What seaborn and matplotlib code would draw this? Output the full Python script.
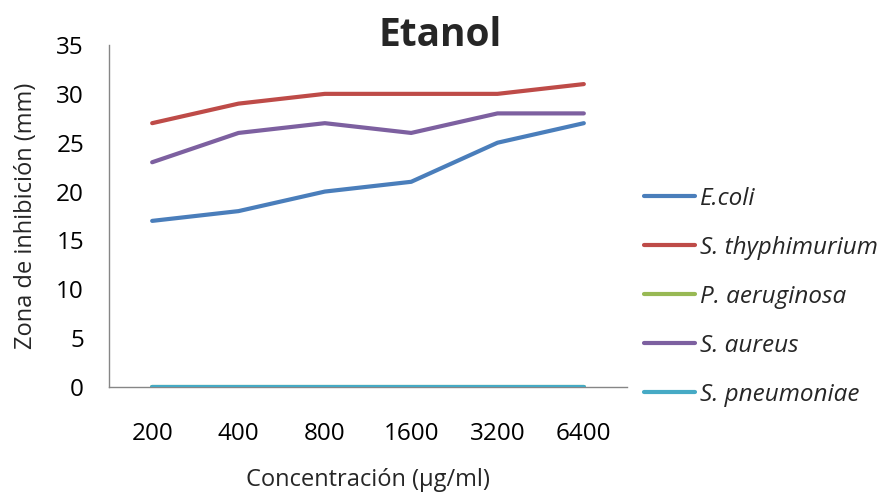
import matplotlib
matplotlib.use("Agg")
import matplotlib.pyplot as plt
import seaborn as sns
import pandas as pd
from matplotlib.lines import Line2D

concentrations = ["200", "400", "800", "1600", "3200", "6400"]
series_names = ["E.coli", "S. thyphimurium", "P. aeruginosa", "S. aureus", "S. pneumoniae"]
ecoli = [17, 18, 20, 21, 25, 27]
thyphimurium = [27, 29, 30, 30, 30, 31]
aeruginosa = [0, 0, 0, 0, 0, 0]
aureus = [23, 26, 27, 26, 28, 28]
pneumoniae = [0, 0, 0, 0, 0, 0]
colors = ["#4A7EBB", "#BE4B48", "#98B954", "#7D60A0", "#46AAC5"]

values = [ecoli, thyphimurium, aeruginosa, aureus, pneumoniae]
rows = []
for name, vals in zip(series_names, values):
    for i, (c, v) in enumerate(zip(concentrations, vals)):
        rows.append({"x": i, "conc": c, "serie": name, "val": v})
df = pd.DataFrame(rows)

sns.set_style("white")
plt.rcParams["font.family"] = ["Open Sans", "DejaVu Sans"]

fig = plt.figure(figsize=(8.82, 4.95), dpi=100)
ax = fig.add_axes([109/882, 1-387/495, (627-109)/882, (387-45)/495])

sns.lineplot(data=df, x="x", y="val", hue="serie", hue_order=series_names,
             palette=colors, linewidth=3.0, ax=ax, legend=False,
             solid_capstyle="round")

ax.set_xlim(-0.5, 5.5)
ax.set_ylim(0, 35)
ax.set_yticks(range(0, 36, 5))
ax.set_xticks(range(len(concentrations)))
ax.set_xticklabels(concentrations)
ax.tick_params(axis="both", length=0, labelsize=17.5, colors="#000000")
ax.tick_params(axis="x", pad=25)
ax.tick_params(axis="y", pad=18)
for s in ["top", "right"]:
    ax.spines[s].set_visible(False)
for s in ["left", "bottom"]:
    ax.spines[s].set_color("#868686")
    ax.spines[s].set_linewidth(1.0)
ax.spines["bottom"].set_zorder(0)

ax.set_xlabel("Concentración (µg/ml)", fontsize=17, labelpad=16)
ax.set_ylabel("Zona de inhibición (mm)", fontsize=17, labelpad=13)

fig.text(440/882, 1-36/495, "Etanol", fontsize=28, fontweight="bold",
         ha="center", va="center")

handles = [Line2D([0], [0], color=c, lw=3.0, solid_capstyle="round") for c in colors]
leg = fig.legend(handles, series_names, loc="upper left",
                 bbox_to_anchor=(634/882, 1-177/495), frameon=False,
                 prop={"style": "italic", "size": 17.5}, handlelength=2.1,
                 handletextpad=0.2, labelspacing=1.03, borderaxespad=0)

fig.savefig("out.png", dpi=100)
